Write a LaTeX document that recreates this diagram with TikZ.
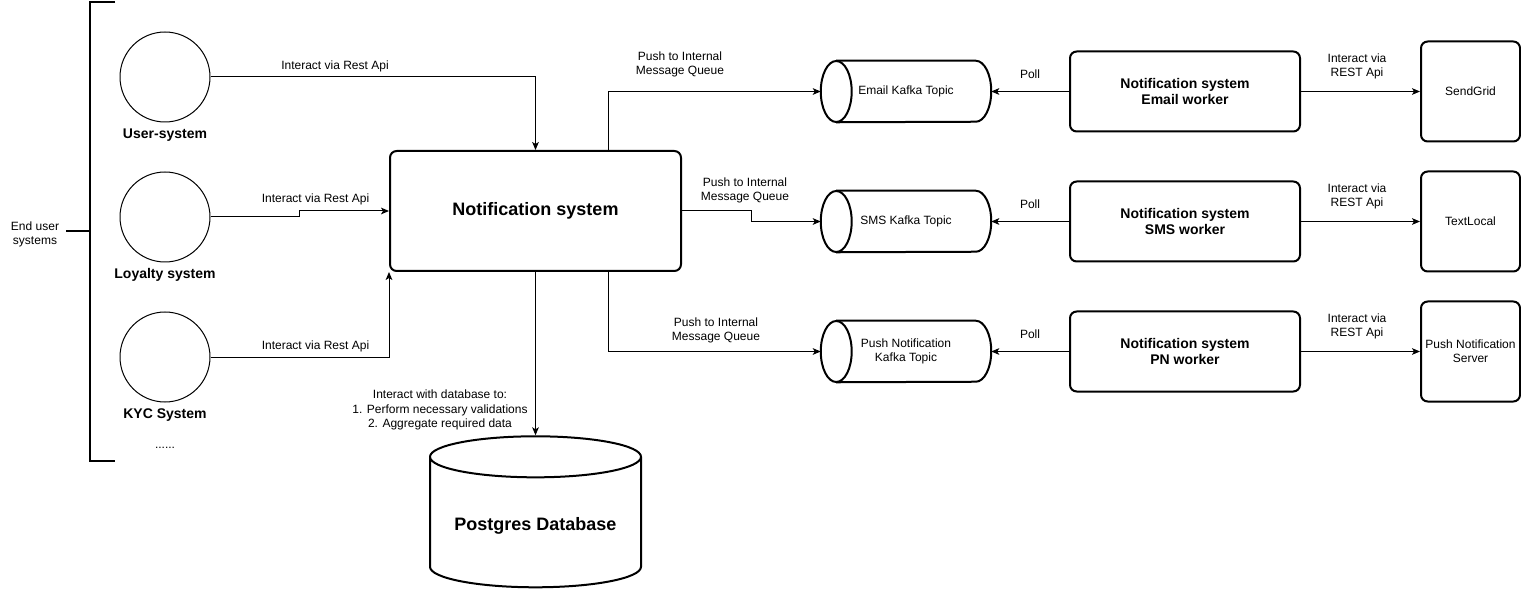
\documentclass[tikz,border=0pt]{standalone}
\usepackage{fontspec}
\setmainfont{Liberation Sans}
\usetikzlibrary{arrows.meta,positioning,shapes.geometric,calc}

% outline of a lying Kafka topic cylinder round a named node
\newcommand{\kafkacyl}[1]{%
  \draw[line width=1.5pt] ($(#1.west)+(15.5,0)$) ellipse [x radius=11.6pt, y radius=22.875pt];
  \draw[line width=1.5pt] ($(#1.north west)+(15.5,0)$) -- ($(#1.north east)+(-15.5,0)$)
    arc[start angle=90, end angle=-90, x radius=11.6pt, y radius=22.875pt]
    -- ($(#1.south west)+(15.5,0)$);}

\begin{document}
\begin{tikzpicture}[x=0.75pt, y=-0.75pt,
  every node/.style={font=\fontsize{9}{10.5}\selectfont, align=center},
  conn/.style={line width=0.75pt, -{Stealth[length=6pt,width=5pt,inset=1.5pt]}},
  box/.style={draw, line width=1.5pt, rounded corners=5pt},
  client/.style={draw, circle, line width=0.75pt, minimum size=67.5pt, inner sep=0pt},
  queue/.style={minimum width=127.5pt, minimum height=45.75pt, inner sep=0pt},
  boldlbl/.style={font=\fontsize{10.5}{12}\selectfont\bfseries},
  biglbl/.style={font=\fontsize{13.5}{16}\selectfont\bfseries}]

  \useasboundingbox (0,0) rectangle (1521,602);

  % ---- End user systems (left) ----
  \node[client] (usersys) at (165,77) {};
  \node[boldlbl] (usersyslbl) at (165,135) {User-system};
  \node[client] (loyalty) at (165,217) {};
  \node[boldlbl] (loyaltylbl) at (165,275) {Loyalty system};
  \node[client] (kyc) at (165,357) {};
  \node[boldlbl] (kyclbl) at (165,415) {KYC System};
  \node (more) at (165,448) {......};

  % Bracket
  \node (endusers) at (35,234) {End user\\systems};
  \draw[line width=1.5pt] (115,2) -- (90,2) -- (90,461) -- (115,461);
  \draw[line width=1.5pt] (66,231) -- (90,231);

  % ---- Notification system (centre) ----
  \node[box, biglbl, minimum width=218.25pt, minimum height=90pt] (notif) at (535.5,211) {Notification system};

  % ---- Postgres database ----
  \node[draw, cylinder, shape border rotate=90, aspect=0.24, line width=1.5pt,
    minimum width=158.25pt, minimum height=113.25pt, biglbl] (db) at (535.5,525.5) {Postgres Database};

  % ---- Kafka topics ----
  \node[queue] (emailq) at (906,91.5) {Email Kafka Topic};
  \kafkacyl{emailq}
  \node[queue] (smsq) at (906,221.5) {SMS Kafka Topic};
  \kafkacyl{smsq}
  \node[queue] (pushq) at (906,351.5) {Push Notification\\Kafka Topic};
  \kafkacyl{pushq}

  % ---- Workers ----
  \node[box, boldlbl, minimum width=172.5pt, minimum height=60pt] (emailw) at (1185,91.5) {Notification system\\Email worker};
  \node[box, boldlbl, minimum width=172.5pt, minimum height=60pt] (smsw) at (1185,221.5) {Notification system\\SMS worker};
  \node[box, boldlbl, minimum width=172.5pt, minimum height=60pt] (pnw) at (1185,351.5) {Notification system\\PN worker};

  % ---- Providers (right) ----
  \node[box, minimum width=74.25pt, minimum height=75pt] (sendgrid) at (1470.5,91.5) {SendGrid};
  \node[box, minimum width=74.25pt, minimum height=75pt] (textlocal) at (1470.5,221.5) {TextLocal};
  \node[box, minimum width=74.25pt, minimum height=75pt] (pnserver) at (1470.5,351.5) {Push Notification\\Server};

  % ---- Connectors: clients to notification system ----
  \draw[conn] (usersys.east) -| (notif.north);
  \node (userapi) at (335,66) {Interact via Rest Api};
  \draw[conn] (loyalty.east) -| ($(loyalty.east)!0.5!(notif.west)$) |- (notif.west);
  \node (loyaltyapi) at (315.5,199) {Interact via Rest Api};
  \draw[conn] (kyc.east) -| (notif.south west);
  \node (kycapi) at (315.5,346) {Interact via Rest Api};

  % ---- Connectors: notification system to topics ----
  \draw[conn] ($(notif.north west)!0.75!(notif.north east)$) |- (emailq.west);
  \node (emailpush) at (680,64) {Push to Internal\\Message Queue};
  \draw[conn] (notif.east) -| ($(notif.east)!0.5!(smsq.west)$) |- (smsq.west);
  \node (smspush) at (745,190) {Push to Internal\\Message Queue};
  \draw[conn] ($(notif.south west)!0.75!(notif.south east)$) |- (pushq.west);
  \node (pnpush) at (716,330) {Push to Internal\\Message Queue};

  % ---- Connector: notification system to database ----
  \draw[conn] (notif.south) -- (db.north);
  \node[font=\fontsize{9}{10.8}\selectfont] (dbnote) at (440,410) {Interact with database to:\\1. Perform necessary validations\\2. Aggregate required data};

  % ---- Workers poll topics and call providers ----
  \draw[conn] (emailw.west) -- (emailq.east);
  \node (emailpoll) at (1030,74) {Poll};
  \draw[conn] (emailw.east) -- (sendgrid.west);
  \node (emailrest) at (1357,66) {Interact via\\REST Api};

  \draw[conn] (smsw.west) -- (smsq.east);
  \node (smspoll) at (1030,204) {Poll};
  \draw[conn] (smsw.east) -- (textlocal.west);
  \node (smsrest) at (1357,196) {Interact via\\REST Api};

  \draw[conn] (pnw.west) -- (pushq.east);
  \node (pnpoll) at (1030,334) {Poll};
  \draw[conn] (pnw.east) -- (pnserver.west);
  \node (pnrest) at (1357,326) {Interact via\\REST Api};

\end{tikzpicture}
\end{document}
